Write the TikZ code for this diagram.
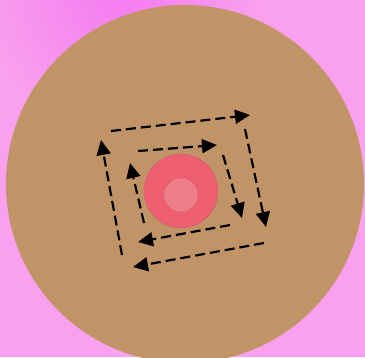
\documentclass[tikz,border=0pt]{standalone}
\usepackage{xcolor}
\usetikzlibrary{arrows.meta}
\definecolor{bgpink}{HTML}{F9A0EE}
\definecolor{bgtop}{HTML}{F47AF0}
\definecolor{disc}{HTML}{C09466}
\definecolor{ring}{HTML}{EE5F72}
\definecolor{core}{HTML}{F07E88}
\begin{document}
\begin{tikzpicture}[x=1pt,y=-1pt,
  flow/.style={line width=2.2pt,dash pattern=on 10pt off 5pt,-{Triangle[length=15pt,width=14pt]}},
  blob/.style={draw=ring!70!black,densely dotted,line width=0.4pt}]
\useasboundingbox (0,0) rectangle (365,357);
\clip (0,0) rectangle (365,357);
\fill[bgpink] (0,0) rectangle (365,357);
\shade[inner color=bgtop,outer color=bgpink] (120,-10) circle[radius=140];
\fill[disc] (185,184) circle[radius=179];
\filldraw[blob,fill=ring] (181,191) circle[radius=37];
\filldraw[blob,fill=core] (181,195) circle[radius=17];
% outer loop
\coordinate (o1s) at (111,131); \coordinate (o1e) at (250,115);
\coordinate (o2s) at (245,129); \coordinate (o2e) at (266,227);
\coordinate (o3s) at (264,243); \coordinate (o3e) at (133,267);
\coordinate (o4s) at (122,255); \coordinate (o4e) at (101,140);
% inner loop
\coordinate (i1s) at (138,151); \coordinate (i1e) at (217,145);
\coordinate (i2s) at (223,155); \coordinate (i2e) at (242,218);
\coordinate (i3s) at (230,225); \coordinate (i3e) at (138,242);
\coordinate (i4s) at (144,223); \coordinate (i4e) at (130,163);
\foreach \n in {o1,o2,o3,o4,i1,i2,i3,i4}{\draw[flow] (\n s) -- (\n e);}
\end{tikzpicture}
\end{document}
